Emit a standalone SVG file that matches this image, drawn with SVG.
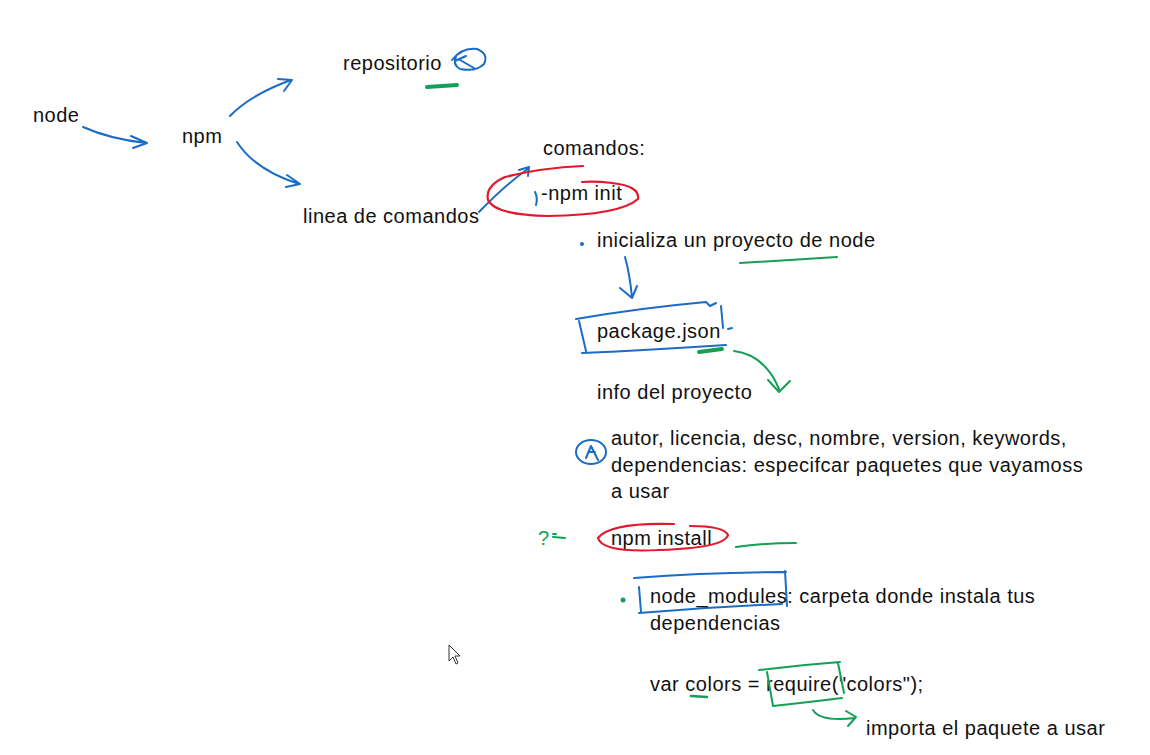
<svg xmlns="http://www.w3.org/2000/svg" width="1150" height="755" viewBox="0 0 1150 755">
<style>
text{font-family:"Liberation Sans","Noto Sans",sans-serif;font-size:20px;letter-spacing:0.5px;fill:#111}
.b{fill:none;stroke:#1a6cc4;stroke-width:2;stroke-linecap:round;stroke-linejoin:round}
.r{fill:none;stroke:#e3182d;stroke-width:2.2;stroke-linecap:round}
.g{fill:none;stroke:#13a055;stroke-width:2;stroke-linecap:round;stroke-linejoin:round}
.gt{stroke-width:4}
</style>
<rect width="1150" height="755" fill="#fff"/>
<g id="connectors">
<path class="b" d="M83 127 Q110 139 146 143 M131 136 L147 143 L133 148"/>
<path class="b" d="M230 116 Q250 95 291 80 M278 79 L292 80 L284 91"/>
<path class="b" d="M237 142 Q255 170 299 184 M287 175 L300 184 L286 187"/>
<path class="b" d="M479 212 Q505 185 529 168 M519 170 L529 167 L528 176"/>
<path class="b" d="M625 257 Q630 275 632 298 M620 288 L632 298 L637 286"/>
<path class="g" d="M734 351 Q765 355 779 389 M768 380 L779 392 L790 381"/>
<path class="g" d="M813 710 Q820 722 855 718 M846 711 L856 717 L848 726"/>
</g>
<g id="node-node"><text x="33" y="122">node</text></g>
<g id="node-npm"><text x="182" y="143">npm</text></g>
<g id="node-repositorio">
<text x="343" y="70">repositorio</text>
<path class="b" d="M452 60 Q462 47 477 49 Q489 54 484 64 Q476 72 460 69 Q452 64 456 57 M455 61 L466 56 M460 60 L474 68"/>
<path class="g gt" d="M427 87 L457 85"/>
</g>
<g id="node-linea"><text x="303" y="223">linea de comandos</text></g>
<g id="node-comandos"><text x="543" y="155">comandos:</text></g>
<g id="node-npminit">
<path class="b" d="M535 192 Q538 198 536 205"/>
<text x="541" y="200">-npm init</text>
<path class="r" d="M583 166 Q540 168 505 177 Q485 186 488 200 Q495 215 548 216 Q620 215 638 199 Q640 186 612 183 Q595 181 582 182"/>
</g>
<g id="node-inicializa">
<circle cx="582" cy="244" r="2" fill="#1a6cc4"/>
<text x="597" y="247">inicializa un proyecto de node</text>
<path class="g" d="M740 263 Q790 260 837 257"/>
</g>
<g id="node-package">
<text x="597" y="338">package.json</text>
<path class="b" d="M576 319 Q640 308 706 302 L710 306 L716 303 M721 306 L723 328 M728 329 L732 328 M579 321 L586 351 M582 353 Q650 350 726 345"/>
<path class="g gt" d="M699 352 L722 349"/>
</g>
<g id="node-info"><text x="597" y="399">info del proyecto</text></g>
<g id="node-autor">
<ellipse class="b" cx="591" cy="452" rx="15" ry="12"/>
<path class="b" d="M586 458 L591 446 L598 460 M589 452 L595 452"/>
<text x="611" y="445">autor, licencia, desc, nombre, version, keywords,</text>
<text x="611" y="472">dependencias: especifcar paquetes que vayamoss</text>
<text x="611" y="498">a usar</text>
</g>
<g id="node-install">
<text x="538" y="545" style="fill:#13a055">?</text>
<path class="g" d="M553 534 L556 534 M553 537 L565 538"/>
<text x="611" y="545">npm install</text>
<path class="r" d="M674 524 Q610 522 598 538 Q602 553 660 550 Q724 548 728 535 Q724 526 690 526"/>
<path class="g" d="M736 547 Q765 543 796 543"/>
</g>
<g id="node-modules">
<circle cx="623" cy="600" r="2.5" fill="#13a055"/>
<path class="b" d="M634 578 Q710 572 786 572 M785 571 L787 606 M639 587 L641 612 M639 613 Q710 607 782 604"/>
<text x="650" y="603">node_modules: carpeta donde instala tus</text>
<text x="650" y="630">dependencias</text>
</g>
<g id="node-require">
<text x="650" y="691">var colors = require("colors");</text>
<path class="g gt" d="M691 696 L707 697" style="stroke-width:2.5"/>
<path class="g" d="M759 670 Q800 665 840 662 M767 672 L773 706 M838 663 L844 693 M773 706 Q810 702 842 698"/>
</g>
<g id="node-importa"><text x="866" y="735">importa el paquete a usar</text></g>
<path d="M449 645 L449 661 L453 657 L456 664 L458 663 L455 656 L460 656 Z" fill="#fff" stroke="#333" stroke-width="1"/>
</svg>
